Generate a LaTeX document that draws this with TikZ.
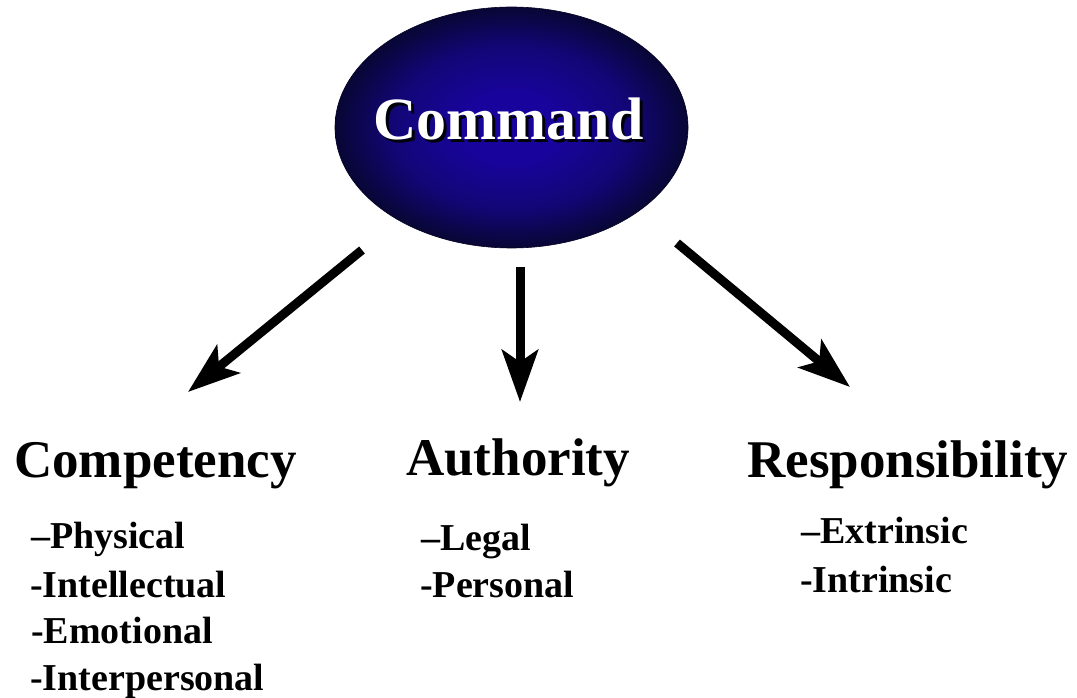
\documentclass[tikz,border=0pt]{standalone}
\usepackage{fontspec}
\setmainfont{Liberation Serif}
\usetikzlibrary{arrows.meta,shapes.geometric}
\definecolor{cin}{RGB}{24,4,156}
\definecolor{cmid}{RGB}{18,6,118}
\definecolor{cout}{RGB}{8,6,52}
\pgfdeclareradialshading{cmdshading}{\pgfpoint{0bp}{0bp}}{color(0bp)=(cin); color(7bp)=(cin); color(17bp)=(cmid); color(25bp)=(cout); color(50bp)=(cout)}
\begin{document}
\begin{tikzpicture}[x=1pt,y=-1pt,
  head/.style={font=\fontsize{53}{60}\selectfont\bfseries, inner sep=0pt, anchor=base west},
  item/.style={font=\fontsize{38}{44}\selectfont\bfseries, inner sep=0pt, anchor=base west},
  cmdtxt/.style={font=\fontsize{60}{66}\selectfont\bfseries, inner sep=0pt, anchor=base},
  arr/.style={line width=9pt, -{Stealth[length=52pt,width=36pt,inset=12pt]}}]
\useasboundingbox[fill=white] (0,0) rectangle (1077,698);
% central ellipse
\node[ellipse, inner sep=0pt, minimum width=353pt, minimum height=241pt,
      shading=cmdshading, draw=cout!70!black, line width=0.6pt] (cmd) at (511.5,127.5) {};
\node[cmdtxt, text=black!85!cout] (cmdshadow) at (511.5,143) {Command};
\node[cmdtxt, text=white] (cmdtext) at (508.5,140) {Command};
% headings
\node[head] (comp) at (14,477) {Competency};
\node[head] (auth) at (406,475) {Authority};
\node[head] (resp) at (747,477) {Responsibility};
% items
\node[item] (c1) at (31,548) {–Physical};
\node[item] (c2) at (30,597) {-Intellectual};
\node[item] (c3) at (31,643) {-Emotional};
\node[item] (c4) at (30,690) {-Interpersonal};
\node[item] (a1) at (421,550) {–Legal};
\node[item] (a2) at (420,597) {-Personal};
\node[item] (r1) at (801,543) {–Extrinsic};
\node[item] (r2) at (800,592) {-Intrinsic};
% arrow end points
\coordinate (s1) at (362,250);
\coordinate (e1) at (188,392);
\coordinate (s2) at (520,267);
\coordinate (e2) at (520,402);
\coordinate (s3) at (677,243);
\coordinate (e3) at (850,387);
\draw[arr] (s1) -- (e1);
\draw[arr] (s2) -- (e2);
\draw[arr] (s3) -- (e3);
\end{tikzpicture}
\end{document}
